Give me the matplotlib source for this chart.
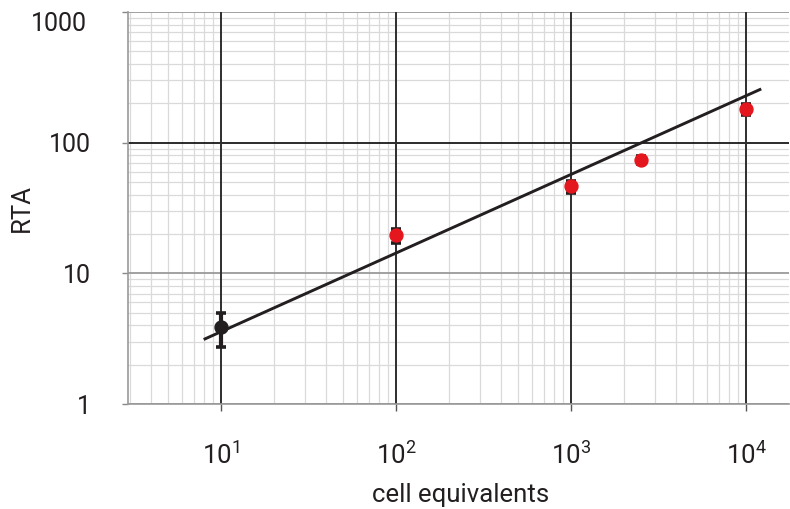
import numpy as np
import matplotlib
matplotlib.use("Agg")
import matplotlib.pyplot as plt
from matplotlib.ticker import FixedLocator, FixedFormatter, LogLocator, NullFormatter

plt.rcParams['font.family'] = ['Roboto', 'DejaVu Sans']
plt.rcParams['mathtext.fontset'] = 'custom'
plt.rcParams['mathtext.rm'] = 'Roboto'

# data
cells = [10, 100, 1000, 2500, 10000]
rta = [3.9, 19.5, 46.5, 74, 180]
err_lo = [1.15, 2.3, 5.5, 5, 17]
err_hi = [1.1, 2.3, 4.5, 5, 16]
pt_colors = ['#231f20', '#e3171d', '#e3171d', '#e3171d', '#e3171d']

# regression line end points
fit_x = [8.1, 12000]
fit_y = [3.15, 255]

xticks = [10, 100, 1000, 10000]
xlabels = ['$10^{1}$', '$10^{2}$', '$10^{3}$', '$10^{4}$']
yticks = [1, 10, 100, 1000]
ylabels = ['1', '10', '100', '']

txt = '#231f20'

fig = plt.figure(figsize=(7.9, 5.09), dpi=100)
ax = fig.add_axes([128/790, 1-404/509, 661/790, 392/509])
ax.set_xscale('log')
ax.set_yscale('log')
ax.set_xlim(2.94, 17600)
ax.set_ylim(1, 1000)

# minor grid
ax.xaxis.set_minor_locator(LogLocator(base=10, subs=np.arange(2, 10)))
ax.yaxis.set_minor_locator(LogLocator(base=10, subs=np.arange(2, 10)))
ax.xaxis.set_minor_formatter(NullFormatter())
ax.yaxis.set_minor_formatter(NullFormatter())
ax.grid(which='minor', color='#dadada', lw=0.9)
ax.set_axisbelow(True)

# major grid lines drawn on top of the minor ones
for v in xticks:
    ax.axvline(v, color='#2e2e2e', lw=1.4, zorder=1.2)
for v in yticks:
    ax.axhline(v, color='#1a1a1a' if v == 100 else '#9a9a9a', lw=1.3, zorder=1.1)

ax.xaxis.set_major_locator(FixedLocator(xticks))
ax.xaxis.set_major_formatter(FixedFormatter(xlabels))
ax.yaxis.set_major_locator(FixedLocator(yticks))
ax.yaxis.set_major_formatter(FixedFormatter(ylabels))
ax.tick_params(which='minor', length=0)
ax.tick_params(axis='x', which='major', length=5, width=1, color='#555555',
               labelsize=18.5, pad=22, labelcolor=txt)
ax.tick_params(axis='y', which='major', length=4, width=1, color='#888888',
               labelsize=18, pad=23, labelcolor=txt)
# top label sits a bit lower than its grid line
ax.annotate('1000', xy=(0, 1000), xycoords=('axes fraction', 'data'),
            xytext=(-41, -10), textcoords='offset pixels', ha='right',
            va='center_baseline', fontsize=18, color=txt)

for s in ['top', 'right']:
    ax.spines[s].set_visible(False)
for s in ['left', 'bottom']:
    ax.spines[s].set_color('#999999')
    ax.spines[s].set_linewidth(1.2)

# fit line
ax.plot(fit_x, fit_y, color=txt, lw=2.1, zorder=3)

# points with error bars
for x, y, lo, hi, c in zip(cells, rta, err_lo, err_hi, pt_colors):
    ax.errorbar(x, y, yerr=[[lo], [hi]], fmt='none', ecolor=txt,
                elinewidth=3, capsize=3.6, capthick=2.6, zorder=4)
    ax.plot(x, y, 'o', color=c, ms=9.3, zorder=5)

ax.set_xlabel('cell equivalents', fontsize=18.5, color=txt)
ax.xaxis.label.set_va('baseline')
ax.xaxis.set_label_coords((461-128)/661, (7-105)/392)
ax.set_ylabel('RTA', fontsize=18.5, color=txt)
ax.yaxis.label.set_va('center')
ax.yaxis.set_label_coords((22-128)/661, 0.5)

fig.savefig('out.png', dpi=100)
